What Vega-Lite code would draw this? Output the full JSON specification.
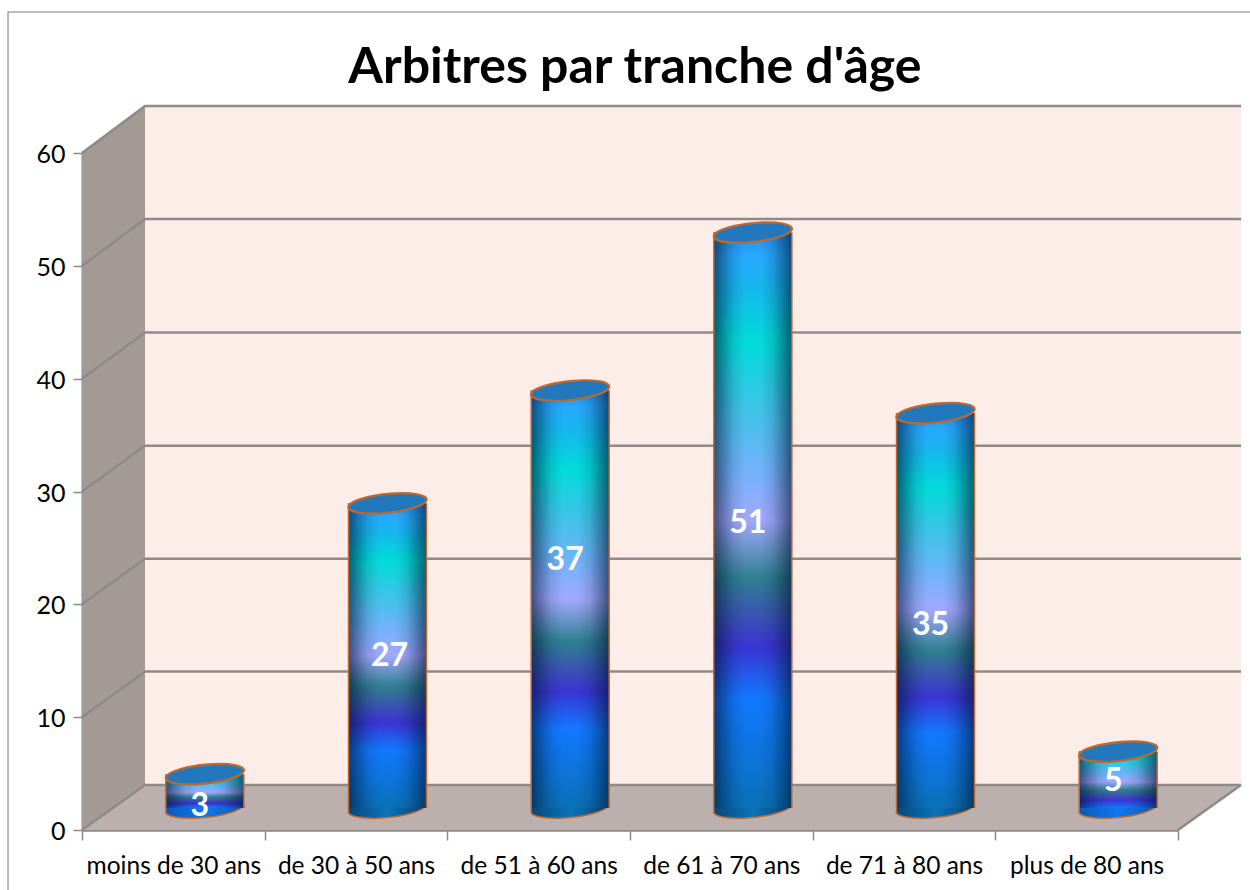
{
"$schema":"https://vega.github.io/schema/vega-lite/v6.json",
"width":1159,"height":724,"autosize":"none",
"padding":{"left":82,"top":106,"right":9,"bottom":60},
"background":"white",
"config":{"view":{"stroke":null},"font":"Lato"},
"datasets":{
"ages":[
{"tranche":"moins de 30 ans","arbitres":3,"etiquette":0.2},
{"tranche":"de 30 à 50 ans","arbitres":27,"etiquette":13.5},
{"tranche":"de 51 à 60 ans","arbitres":37,"etiquette":22},
{"tranche":"de 61 à 70 ans","arbitres":51,"etiquette":25.3},
{"tranche":"de 71 à 80 ans","arbitres":35,"etiquette":16.2},
{"tranche":"plus de 80 ans","arbitres":5,"etiquette":2.4}
],
"parois":[
{"p":"cote","u":0,"v":60,"v2":0},{"p":"cote","u":0.345,"v":64.17,"v2":3.99},
{"p":"fond","u":0.345,"v":64.17,"v2":3.99},{"p":"fond","u":6.345,"v":64.17,"v2":3.99},
{"p":"sol","u":0,"v":0,"v2":0},{"p":"sol","u":0.345,"v":3.99,"v2":0},{"p":"sol","u":6,"v":3.99,"v2":0},{"p":"sol","u":6.345,"v":3.99,"v2":3.99}
],
"traits":[
{"l":"h","u":0,"v":60,"o":1},{"l":"h","u":0.345,"v":64.17,"o":2},{"l":"h","u":6.345,"v":64.17,"o":3},
{"l":"g50","u":0,"v":50,"o":1},{"l":"g50","u":0.345,"v":54.15,"o":2},{"l":"g50","u":6.345,"v":54.15,"o":3},
{"l":"g40","u":0,"v":40,"o":1},{"l":"g40","u":0.345,"v":44.1,"o":2},{"l":"g40","u":6.345,"v":44.1,"o":3},
{"l":"g30","u":0,"v":30,"o":1},{"l":"g30","u":0.345,"v":34.05,"o":2},{"l":"g30","u":6.345,"v":34.05,"o":3},
{"l":"g20","u":0,"v":20,"o":1},{"l":"g20","u":0.345,"v":24.05,"o":2},{"l":"g20","u":6.345,"v":24.05,"o":3},
{"l":"g10","u":0,"v":10,"o":1},{"l":"g10","u":0.345,"v":14.05,"o":2},{"l":"g10","u":6.345,"v":14.05,"o":3},
{"l":"g0","u":0,"v":0,"o":1},{"l":"g0","u":0.345,"v":3.99,"o":2},{"l":"g0","u":6,"v":3.99,"o":3},{"l":"g0","u":6.345,"v":3.99,"o":4},
{"l":"s","u":6,"v":0,"o":1},{"l":"s","u":6.345,"v":3.99,"o":2}
],
"cadre":[{"u":-0.405,"v":-5.4,"o":1},{"u":-0.405,"v":72.5,"o":2},{"u":6.4,"v":72.5,"o":3}],
"titre":[{"u":3.027,"v":67.5,"t":"Arbitres par tranche d'âge"}]
},
"resolve":{"scale":{"x":"independent","y":"independent"},"axis":{"x":"independent","y":"independent"}},
"layer":[
{"data":{"name":"parois"},"mark":{"type":"area","opacity":1,"line":false},
 "encoding":{"x":{"field":"u","type":"quantitative","axis":null,"scale":{"domain":[0,6.345],"nice":false,"zero":false}},
 "y":{"field":"v","type":"quantitative","axis":null,"scale":{"domain":[0,64.17],"nice":false,"zero":false},"stack":null},
 "y2":{"field":"v2"},
 "color":{"field":"p","type":"nominal","legend":null,"scale":{"domain":["cote","fond","sol"],"range":["#a39a95","#fcede9","#bcb0ae"]}}}},
{"data":{"name":"traits"},"mark":{"type":"line","color":"#8e8a88","strokeWidth":2.5},
 "encoding":{"x":{"field":"u","type":"quantitative","axis":null,"scale":{"domain":[0,6.345],"nice":false,"zero":false}},
 "y":{"field":"v","type":"quantitative","axis":null,"scale":{"domain":[0,64.17],"nice":false,"zero":false}},
 "detail":{"field":"l"},"order":{"field":"o"}}},
{"data":{"name":"cadre"},"mark":{"type":"line","color":"#a6a6a6","strokeWidth":1.5,"clip":false},
 "encoding":{"x":{"field":"u","type":"quantitative","axis":null,"scale":{"domain":[0,6.345],"nice":false,"zero":false}},
 "y":{"field":"v","type":"quantitative","axis":null,"scale":{"domain":[0,64.17],"nice":false,"zero":false}},
 "order":{"field":"o"}}},
{"data":{"name":"titre"},"mark":{"type":"text","font":"Lato","fontSize":50,"fontWeight":"bold","color":"#000000","align":"center","baseline":"middle"},
 "encoding":{"x":{"field":"u","type":"quantitative","axis":null,"scale":{"domain":[0,6.345],"nice":false,"zero":false}},
 "y":{"field":"v","type":"quantitative","axis":null,"scale":{"domain":[0,64.17],"nice":false,"zero":false}},
 "text":{"field":"t"}}},
{"data":{"name":"ages"},"mark":{"type":"bar","opacity":0},
 "encoding":{"x":{"field":"tranche","type":"nominal","sort":null,"title":null,
  "scale":{"domain":["moins de 30 ans","de 30 à 50 ans","de 51 à 60 ans","de 61 à 70 ans","de 71 à 80 ans","plus de 80 ans"],"range":[0,1096],"paddingInner":0,"paddingOuter":0},
  "axis":{"tickBand":"extent","labelAngle":0,"labelFontSize":24.5,"labelColor":"#000000","labelPadding":14,"tickColor":"#8e8a88","tickSize":10,"tickWidth":1.5,"domainColor":"#8e8a88","domainWidth":2.5,"grid":false,"labelFont":"Lato"}},
 "y":{"field":"arbitres","type":"quantitative","title":null,"stack":null,
  "scale":{"domain":[0,60],"range":[724,47],"nice":false},
  "axis":{"values":[0,10,20,30,40,50,60],"labelFontSize":25,"labelColor":"#000000","labelPadding":8,"labelOffset":1.5,"tickColor":"#8e8a88","tickSize":9,"tickWidth":1.5,"domainColor":"#8e8a88","domainWidth":2,"grid":false,"labelFont":"Lato"}}}},
{"data":{"name":"ages"},
 "encoding":{"x":{"field":"tranche","type":"nominal","axis":null,
  "scale":{"domain":["moins de 30 ans","de 30 à 50 ans","de 51 à 60 ans","de 61 à 70 ans","de 71 à 80 ans","plus de 80 ans"],"range":[31.5,1127.5],"paddingInner":0.573,"paddingOuter":0.2865}},
  "y":{"field":"arbitres","type":"quantitative","axis":null,"stack":null,"scale":{"domain":[0,64.17],"range":[702,-22],"nice":false,"zero":false}}},
 "layer":[
 {"mark":{"type":"point","filled":true,"opacity":1,"size":6084,"strokeWidth":1.5,"stroke":"#c0682c",
   "shape":"M-1,0 L-1,0.08 A1,0.24,-6,0,0,1,-0.08 L1,0"},
  "encoding":{"y":{"datum":0,"type":"quantitative","axis":null,"scale":{"domain":[0,64.17],"range":[702,-22],"nice":false,"zero":false}},
  "fill":{"condition":{"test":"datum.arbitres < 10","value":{"gradient":"linear","x1":0,"y1":0,"x2":1,"y2":0,"stops":[{"offset":0,"color":"#0a58b8"},{"offset":0.5,"color":"#1078f0"},{"offset":1,"color":"#0a58b0"}]}},
   "value":{"gradient":"linear","x1":0,"y1":0,"x2":1,"y2":0,"stops":[{"offset":0,"color":"#06477a"},{"offset":0.5,"color":"#0a74bc"},{"offset":1,"color":"#06406e"}]}}}},
 {"mark":{"type":"bar","opacity":1},
  "encoding":{"y2":{"datum":0},
  "fill":{"condition":{"test":"datum.arbitres < 10","value":{"gradient":"linear","x1":0,"y1":1,"x2":0,"y2":0,"stops":[
   {"offset":0,"color":"#1278ff"},{"offset":0.14,"color":"#3a34d4"},{"offset":0.23,"color":"#3a58b0"},{"offset":0.32,"color":"#2f8090"},{"offset":0.465,"color":"#a2a8ff"},{"offset":0.61,"color":"#6cb4f8"},{"offset":0.755,"color":"#3cc4e8"},{"offset":0.915,"color":"#00dcd8"},{"offset":1,"color":"#08c8e4"}]}},
   "value":{"gradient":"linear","x1":0,"y1":1,"x2":0,"y2":0,"stops":[
   {"offset":0,"color":"#0a70b4"},{"offset":0.08,"color":"#0c74d8"},{"offset":0.19,"color":"#1278ff"},{"offset":0.28,"color":"#3a34d4"},{"offset":0.34,"color":"#3a58b0"},{"offset":0.4,"color":"#2f8090"},{"offset":0.5,"color":"#a2a8ff"},{"offset":0.6,"color":"#6cb4f8"},{"offset":0.7,"color":"#3cc4e8"},{"offset":0.81,"color":"#00dcd8"},{"offset":0.9,"color":"#14b8ec"},{"offset":0.96,"color":"#28a8ff"},{"offset":1,"color":"#2090e8"}]}}}},
 {"mark":{"type":"bar","opacity":1,"fill":{"gradient":"linear","x1":0,"y1":0,"x2":1,"y2":0,"stops":[
   {"offset":0,"color":"rgba(0,20,50,0.62)"},{"offset":0.1,"color":"rgba(0,20,50,0.4)"},{"offset":0.25,"color":"rgba(0,20,50,0.12)"},{"offset":0.4,"color":"rgba(0,20,50,0)"},{"offset":0.6,"color":"rgba(0,20,50,0)"},{"offset":0.75,"color":"rgba(0,20,50,0.12)"},{"offset":0.9,"color":"rgba(0,20,50,0.4)"},{"offset":1,"color":"rgba(0,20,50,0.62)"}]}},
  "encoding":{"y2":{"datum":0}}},
 {"mark":{"type":"rule","color":"#c0682c","strokeWidth":1.5},
  "encoding":{"x":{"field":"tranche","type":"nominal","bandPosition":0,"axis":null,"scale":{"domain":["moins de 30 ans","de 30 à 50 ans","de 51 à 60 ans","de 61 à 70 ans","de 71 à 80 ans","plus de 80 ans"],"range":[31.5,1127.5],"paddingInner":0.573,"paddingOuter":0.2865}},"y2":{"datum":0}}},
 {"mark":{"type":"rule","color":"#c0682c","strokeWidth":1.5},
  "encoding":{"x":{"field":"tranche","type":"nominal","bandPosition":1,"axis":null,"scale":{"domain":["moins de 30 ans","de 30 à 50 ans","de 51 à 60 ans","de 61 à 70 ans","de 71 à 80 ans","plus de 80 ans"],"range":[31.5,1127.5],"paddingInner":0.573,"paddingOuter":0.2865}},"y2":{"datum":0}}},
 {"mark":{"type":"point","filled":true,"opacity":1,"size":6084,"strokeWidth":2.2,"stroke":"#c0682c","fill":"#2178bc",
   "shape":"M-1,0.08 A1,0.24,-6,1,1,1,-0.08 A1,0.24,-6,1,1,-1,0.08 Z"}},
 {"transform":[{"filter":"datum.arbitres != 27"}],"mark":{"type":"text","color":"white","fontWeight":"bold","fontSize":32,"font":"Lato","dx":-5,"baseline":"middle"},
  "encoding":{"y":{"field":"etiquette","type":"quantitative","axis":null,"scale":{"domain":[0,64.17],"range":[702,-22],"nice":false,"zero":false}},"text":{"field":"arbitres"}}},
 {"transform":[{"filter":"datum.arbitres == 27"}],"mark":{"type":"text","color":"white","fontWeight":"bold","fontSize":32,"font":"Lato","dx":2,"baseline":"middle"},
  "encoding":{"y":{"field":"etiquette","type":"quantitative","axis":null,"scale":{"domain":[0,64.17],"range":[702,-22],"nice":false,"zero":false}},"text":{"field":"arbitres"}}}
 ]}
]
}
